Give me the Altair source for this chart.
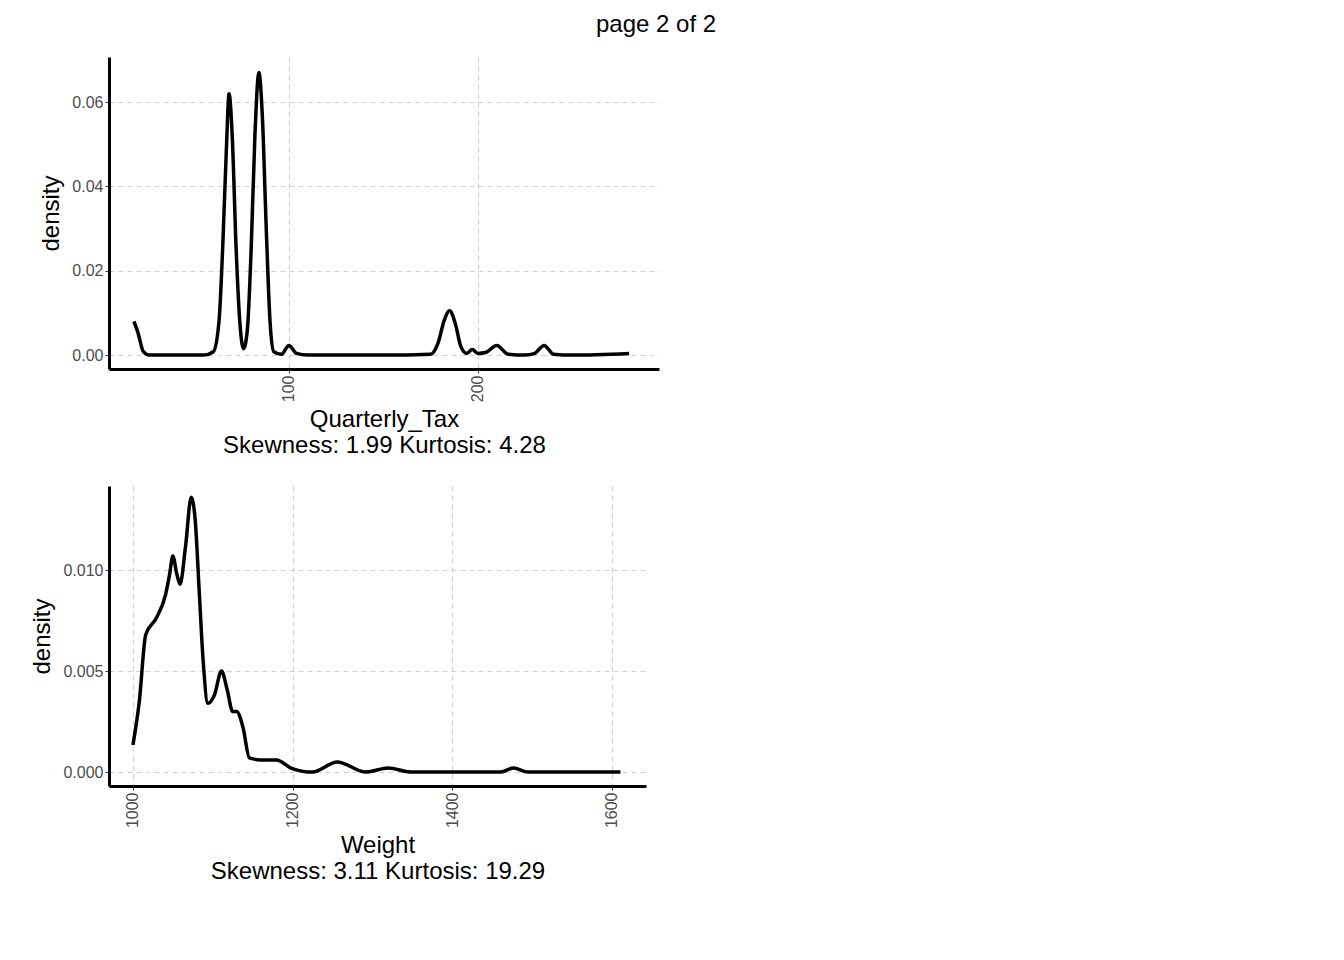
import altair as alt
import pandas as pd

tax_x = [18, 20, 23, 26, 40, 55, 60, 63, 65, 67, 68.3, 70, 72, 74, 76, 78, 80, 82, 84.1, 86, 88, 90, 92,
         96, 100, 104, 110, 150, 175, 179, 182, 185, 188, 191, 194, 197, 200, 204, 210, 216, 225, 230,
         235, 240, 250, 280]
tax_y = [0.008, 0.0055, 0.0008, 0.0, 0.0, 0.0, 0.0008, 0.008, 0.026, 0.050, 0.062, 0.052, 0.026, 0.008,
         0.0015, 0.006, 0.025, 0.052, 0.067, 0.056, 0.030, 0.008, 0.0008, 0.0002, 0.0023, 0.0004, 0.0,
         0.0, 0.0002, 0.003, 0.008, 0.0105, 0.0075, 0.002, 0.0004, 0.0013, 0.0004, 0.0006, 0.0023, 0.0002,
         0.0, 0.0004, 0.0023, 0.0002, 0.0, 0.0004]

wt_x = [1000, 1008, 1016, 1029, 1041, 1046, 1050, 1055, 1059, 1066, 1073, 1078, 1083, 1088, 1094, 1102,
        1111, 1118, 1125, 1130, 1138, 1146, 1160, 1180, 1198, 1225, 1256, 1292, 1320, 1348, 1400, 1460,
        1477, 1495, 1540, 1611]
wt_y = [0.00134, 0.0035, 0.0068, 0.0076, 0.0088, 0.0098, 0.0107, 0.0098, 0.0093, 0.0112, 0.0136, 0.0125,
        0.009, 0.0055, 0.0034, 0.0038, 0.005, 0.0041, 0.003, 0.003, 0.0022, 0.0007, 0.0006, 0.0006, 0.0002,
        0.0, 0.0005, 0.0, 0.0002, 0.0, 0.0, 0.0, 0.0002, 0.0, 0.0, 0.0]

FONT = "Liberation Sans"


def density_panel(xs, ys, xdom, ydom, xticks, yticks, yfmt, xtitle, w, h):
    df = pd.DataFrame({"x": xs, "y": ys})
    return alt.Chart(df).mark_line(color="black", strokeWidth=3.5, interpolate="monotone").encode(
        x=alt.X("x:Q", scale=alt.Scale(domain=xdom, nice=False, zero=False),
                axis=alt.Axis(values=xticks, format="d", labelAngle=-90, title=xtitle, gridDash=[5, 4])),
        y=alt.Y("y:Q", scale=alt.Scale(domain=ydom, nice=False, zero=False),
                axis=alt.Axis(values=yticks, format=yfmt, title="density", gridDash=[5, 4])),
    ).properties(width=w, height=h)


top = density_panel(tax_x, tax_y, [4.8, 295.8], [-0.0033, 0.0707], [100, 200],
                    [0, 0.02, 0.04, 0.06], ".2f",
                    ["Quarterly_Tax", "Skewness: 1.99 Kurtosis: 4.28"], 550, 312)
bottom = density_panel(wt_x, wt_y, [970, 1643], [-0.00069, 0.01416], [1000, 1200, 1400, 1600],
                       [0, 0.005, 0.010], ".3f",
                       ["Weight", "Skewness: 3.11 Kurtosis: 19.29"], 537, 300)

chart = alt.vconcat(top, bottom, spacing=28).properties(
    padding={"left": 22, "top": 5, "right": 5, "bottom": 5},
    title=alt.TitleParams("page 2 of 2", anchor="start", dx=565, offset=20, fontSize=24,
                          font=FONT, fontWeight="normal", color="black")
).configure_view(stroke=None).configure_axis(
    domainColor="black", domainWidth=3, tickColor="#333333", tickSize=4,
    labelFont=FONT, labelFontSize=16, labelColor="#4d4d4d",
    titleFont=FONT, titleFontSize=24, titleFontWeight="normal", titleColor="black",
    gridColor="#d0d0d0", gridWidth=1.2,
).configure_axisY(domainWidth=3, titlePadding=8).configure_axisX(titlePadding=6)

chart.save("out.html", embed_options={"renderer": "svg", "actions": False})
